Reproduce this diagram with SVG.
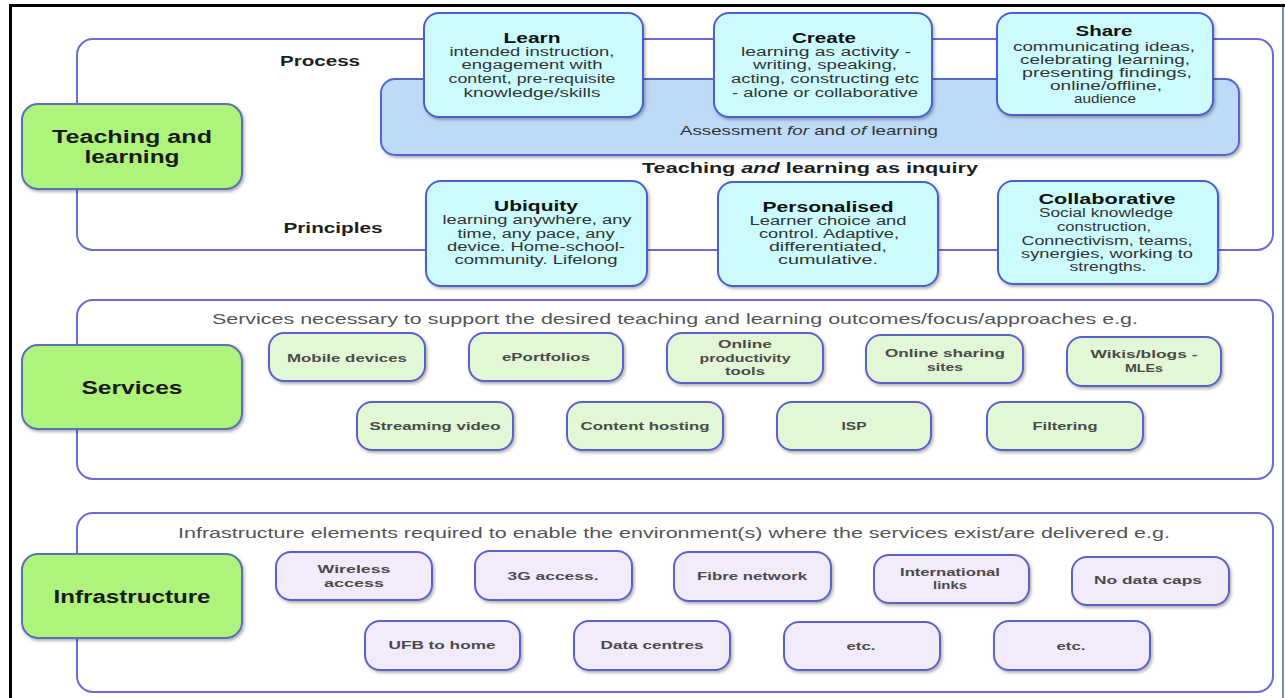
<svg xmlns="http://www.w3.org/2000/svg" width="1285" height="698" viewBox="0 0 1285 698">
<style>
text{font-family:"Liberation Sans",Arial,sans-serif;text-anchor:middle}
.cont{fill:#fff;stroke:#6b6bd8;stroke-width:2}
.green{fill:#aef47c;stroke:#5b6fb8;stroke-width:2;filter:url(#sh)}
.cyan{fill:#cbfbfc;stroke:#4b5fcf;stroke-width:2;filter:url(#sh)}
.assess{fill:#bddaf8;stroke:#5566d0;stroke-width:2;filter:url(#sh)}
.svc{fill:#e2f7d5;stroke:#5a62c8;stroke-width:2;filter:url(#sh)}
.inf{fill:#f1ebfc;stroke:#5a62c8;stroke-width:2;filter:url(#sh)}
.gt{font-size:18px;font-weight:bold;fill:#1a1a1a}
.lbl{font-size:14px;font-weight:bold;fill:#1e1e1e}
.ti{font-size:14px;font-weight:bold;fill:#111}
.b{font-size:12px;fill:#333}
.hdr{font-size:14px;fill:#555}
.s{font-size:11.5px;font-weight:bold;fill:#4a4a4a}
</style>
<defs>
<filter id="sh" x="-10%" y="-10%" width="125%" height="135%">
<feDropShadow dx="1.5" dy="2" stdDeviation="1.5" flood-color="#000" flood-opacity="0.3"/>
</filter>
</defs>
<rect x="0" y="0" width="1285" height="698" fill="#fff"/>
<g id="frame">
<rect x="9" y="4" width="1276" height="3" fill="#000"/>
<rect x="9" y="4" width="3" height="694" fill="#000"/>
<rect x="1282" y="7" width="2" height="691" fill="#6f8fb4"/>
</g>
<g id="connectors">
<rect class="cont" x="77" y="39" width="1196" height="211" rx="16"/>
<rect class="cont" x="77" y="300" width="1196" height="179" rx="16"/>
<rect class="cont" x="77" y="513" width="1196" height="179" rx="16"/>
</g>
<g id="labels">
<text class="lbl" x="320" y="66" textLength="80" lengthAdjust="spacingAndGlyphs">Process</text>
<text class="lbl" x="333" y="233" textLength="99" lengthAdjust="spacingAndGlyphs">Principles</text>
<text class="lbl" x="810" y="173" textLength="336" lengthAdjust="spacingAndGlyphs">Teaching <tspan font-style="italic">and</tspan> learning as inquiry</text>
<text class="hdr" x="675" y="324" textLength="926" lengthAdjust="spacingAndGlyphs">Services necessary to support the desired teaching and learning outcomes/focus/approaches e.g.</text>
<text class="hdr" x="674" y="538" textLength="992" lengthAdjust="spacingAndGlyphs">Infrastructure elements required to enable the environment(s) where the services exist/are delivered e.g.</text>
</g>
<g id="assessment">
<rect class="assess" x="381" y="79" width="858" height="76" rx="14"/>
<text class="b" x="809" y="135" textLength="258" lengthAdjust="spacingAndGlyphs" style="font-size:13px">Assessment <tspan font-style="italic">for</tspan> and <tspan font-style="italic">of</tspan> learning</text>
</g>
<g id="teaching">
<rect class="green" x="22" y="104" width="220" height="85" rx="16"/>
<text class="gt" x="132" y="143" textLength="160" lengthAdjust="spacingAndGlyphs">Teaching and</text>
<text class="gt" x="132" y="163" textLength="95" lengthAdjust="spacingAndGlyphs">learning</text>
</g>
<g id="learn">
<rect class="cyan" x="424" y="13" width="219" height="104" rx="15"/>
<text class="ti" x="532" y="43" textLength="57" lengthAdjust="spacingAndGlyphs">Learn</text>
<text class="b" x="532" y="56" textLength="165" lengthAdjust="spacingAndGlyphs">intended instruction,</text>
<text class="b" x="532" y="69" textLength="141" lengthAdjust="spacingAndGlyphs">engagement with</text>
<text class="b" x="532" y="83" textLength="167" lengthAdjust="spacingAndGlyphs">content, pre-requisite</text>
<text class="b" x="532" y="97" textLength="137" lengthAdjust="spacingAndGlyphs">knowledge/skills</text>
</g>
<g id="create">
<rect class="cyan" x="714" y="13" width="218" height="104" rx="15"/>
<text class="ti" x="824" y="43" textLength="64" lengthAdjust="spacingAndGlyphs">Create</text>
<text class="b" x="826" y="56" textLength="170" lengthAdjust="spacingAndGlyphs">learning as activity -</text>
<text class="b" x="825" y="69" textLength="144" lengthAdjust="spacingAndGlyphs">writing, speaking,</text>
<text class="b" x="825" y="83" textLength="188" lengthAdjust="spacingAndGlyphs">acting, constructing etc</text>
<text class="b" x="825" y="97" textLength="186" lengthAdjust="spacingAndGlyphs">- alone or collaborative</text>
</g>
<g id="share">
<rect class="cyan" x="997" y="13" width="216" height="102" rx="15"/>
<text class="ti" x="1104" y="36" textLength="57" lengthAdjust="spacingAndGlyphs">Share</text>
<text class="b" x="1104" y="51" textLength="182" lengthAdjust="spacingAndGlyphs">communicating ideas,</text>
<text class="b" x="1105" y="64" textLength="170" lengthAdjust="spacingAndGlyphs">celebrating learning,</text>
<text class="b" x="1107" y="77" textLength="170" lengthAdjust="spacingAndGlyphs">presenting findings,</text>
<text class="b" x="1106" y="90" textLength="112" lengthAdjust="spacingAndGlyphs">online/offline,</text>
<text class="b" x="1105" y="103" textLength="62" lengthAdjust="spacingAndGlyphs">audience</text>
</g>
<g id="ubiquity">
<rect class="cyan" x="426" y="181" width="221" height="105" rx="15"/>
<text class="ti" x="536" y="211" textLength="84" lengthAdjust="spacingAndGlyphs">Ubiquity</text>
<text class="b" x="537" y="224" textLength="189" lengthAdjust="spacingAndGlyphs">learning anywhere, any</text>
<text class="b" x="536" y="238" textLength="157" lengthAdjust="spacingAndGlyphs">time, any pace, any</text>
<text class="b" x="536" y="251" textLength="178" lengthAdjust="spacingAndGlyphs">device. Home-school-</text>
<text class="b" x="536" y="264" textLength="163" lengthAdjust="spacingAndGlyphs">community. Lifelong</text>
</g>
<g id="personalised">
<rect class="cyan" x="718" y="182" width="220" height="104" rx="15"/>
<text class="ti" x="828" y="212" textLength="131" lengthAdjust="spacingAndGlyphs">Personalised</text>
<text class="b" x="828" y="225" textLength="157" lengthAdjust="spacingAndGlyphs">Learner choice and</text>
<text class="b" x="829" y="238" textLength="140" lengthAdjust="spacingAndGlyphs">control. Adaptive,</text>
<text class="b" x="828" y="251" textLength="118" lengthAdjust="spacingAndGlyphs">differentiated,</text>
<text class="b" x="828" y="264" textLength="100" lengthAdjust="spacingAndGlyphs">cumulative.</text>
</g>
<g id="collaborative">
<rect class="cyan" x="998" y="181" width="220" height="103" rx="15"/>
<text class="ti" x="1107" y="204" textLength="137" lengthAdjust="spacingAndGlyphs">Collaborative</text>
<text class="b" x="1106" y="217" textLength="134" lengthAdjust="spacingAndGlyphs">Social knowledge</text>
<text class="b" x="1104" y="231" textLength="94" lengthAdjust="spacingAndGlyphs">construction,</text>
<text class="b" x="1107" y="245" textLength="171" lengthAdjust="spacingAndGlyphs">Connectivism, teams,</text>
<text class="b" x="1107" y="258" textLength="172" lengthAdjust="spacingAndGlyphs">synergies, working to</text>
<text class="b" x="1108" y="271" textLength="77" lengthAdjust="spacingAndGlyphs">strengths.</text>
</g>
<g id="services">
<rect class="green" x="22" y="345" width="220" height="84" rx="16"/>
<text class="gt" x="132" y="394" textLength="101" lengthAdjust="spacingAndGlyphs">Services</text>
</g>
<g id="mobile-devices"><rect class="svc" x="269" y="333" width="156" height="48" rx="15"/><text class="s" x="347" y="362" textLength="120" lengthAdjust="spacingAndGlyphs">Mobile devices</text></g>
<g id="eportfolios"><rect class="svc" x="469" y="333" width="154" height="48" rx="15"/><text class="s" x="546" y="361" textLength="88" lengthAdjust="spacingAndGlyphs">ePortfolios</text></g>
<g id="online-productivity"><rect class="svc" x="667" y="333" width="156" height="50" rx="15"/>
<text class="s" x="745" y="348" textLength="54" lengthAdjust="spacingAndGlyphs">Online</text>
<text class="s" x="745" y="362" textLength="91" lengthAdjust="spacingAndGlyphs">productivity</text>
<text class="s" x="745" y="375" textLength="40" lengthAdjust="spacingAndGlyphs">tools</text></g>
<g id="online-sharing"><rect class="svc" x="866" y="335" width="157" height="48" rx="15"/>
<text class="s" x="945" y="357" textLength="120" lengthAdjust="spacingAndGlyphs">Online sharing</text>
<text class="s" x="945" y="371" textLength="36" lengthAdjust="spacingAndGlyphs">sites</text></g>
<g id="wikis"><rect class="svc" x="1067" y="337" width="154" height="49" rx="15"/>
<text class="s" x="1144" y="358" textLength="107" lengthAdjust="spacingAndGlyphs">Wikis/blogs -</text>
<text class="s" x="1144" y="372" textLength="38" lengthAdjust="spacingAndGlyphs">MLEs</text></g>
<g id="streaming-video"><rect class="svc" x="357" y="402" width="156" height="48" rx="15"/><text class="s" x="435" y="430" textLength="131" lengthAdjust="spacingAndGlyphs">Streaming video</text></g>
<g id="content-hosting"><rect class="svc" x="567" y="402" width="156" height="48" rx="15"/><text class="s" x="645" y="430" textLength="129" lengthAdjust="spacingAndGlyphs">Content hosting</text></g>
<g id="isp"><rect class="svc" x="777" y="402" width="154" height="48" rx="15"/><text class="s" x="854" y="430" textLength="25" lengthAdjust="spacingAndGlyphs">ISP</text></g>
<g id="filtering"><rect class="svc" x="987" y="402" width="156" height="48" rx="15"/><text class="s" x="1065" y="430" textLength="65" lengthAdjust="spacingAndGlyphs">Filtering</text></g>
<g id="infrastructure">
<rect class="green" x="22" y="554" width="220" height="84" rx="16"/>
<text class="gt" x="132" y="603" textLength="157" lengthAdjust="spacingAndGlyphs">Infrastructure</text>
</g>
<g id="wireless"><rect class="inf" x="276" y="552" width="156" height="48" rx="15"/>
<text class="s" x="354" y="573" textLength="73" lengthAdjust="spacingAndGlyphs">Wireless</text>
<text class="s" x="354" y="587" textLength="60" lengthAdjust="spacingAndGlyphs">access</text></g>
<g id="access-3g"><rect class="inf" x="475" y="551" width="157" height="49" rx="15"/><text class="s" x="553" y="580" textLength="91" lengthAdjust="spacingAndGlyphs">3G access.</text></g>
<g id="fibre"><rect class="inf" x="674" y="552" width="157" height="49" rx="15"/><text class="s" x="752" y="580" textLength="110" lengthAdjust="spacingAndGlyphs">Fibre network</text></g>
<g id="international"><rect class="inf" x="874" y="555" width="155" height="48" rx="15"/>
<text class="s" x="950" y="576" textLength="100" lengthAdjust="spacingAndGlyphs">International</text>
<text class="s" x="950" y="589" textLength="34" lengthAdjust="spacingAndGlyphs">links</text></g>
<g id="no-data-caps"><rect class="inf" x="1072" y="557" width="157" height="48" rx="15"/><text class="s" x="1148" y="584" textLength="108" lengthAdjust="spacingAndGlyphs">No data caps</text></g>
<g id="ufb"><rect class="inf" x="365" y="621" width="155" height="49" rx="15"/><text class="s" x="442" y="649" textLength="107" lengthAdjust="spacingAndGlyphs">UFB to home</text></g>
<g id="data-centres"><rect class="inf" x="574" y="621" width="156" height="49" rx="15"/><text class="s" x="652" y="649" textLength="103" lengthAdjust="spacingAndGlyphs">Data centres</text></g>
<g id="etc-1"><rect class="inf" x="784" y="622" width="156" height="48" rx="15"/><text class="s" x="861" y="650" textLength="29" lengthAdjust="spacingAndGlyphs">etc.</text></g>
<g id="etc-2"><rect class="inf" x="994" y="621" width="156" height="49" rx="15"/><text class="s" x="1071" y="650" textLength="29" lengthAdjust="spacingAndGlyphs">etc.</text></g>
</svg>
